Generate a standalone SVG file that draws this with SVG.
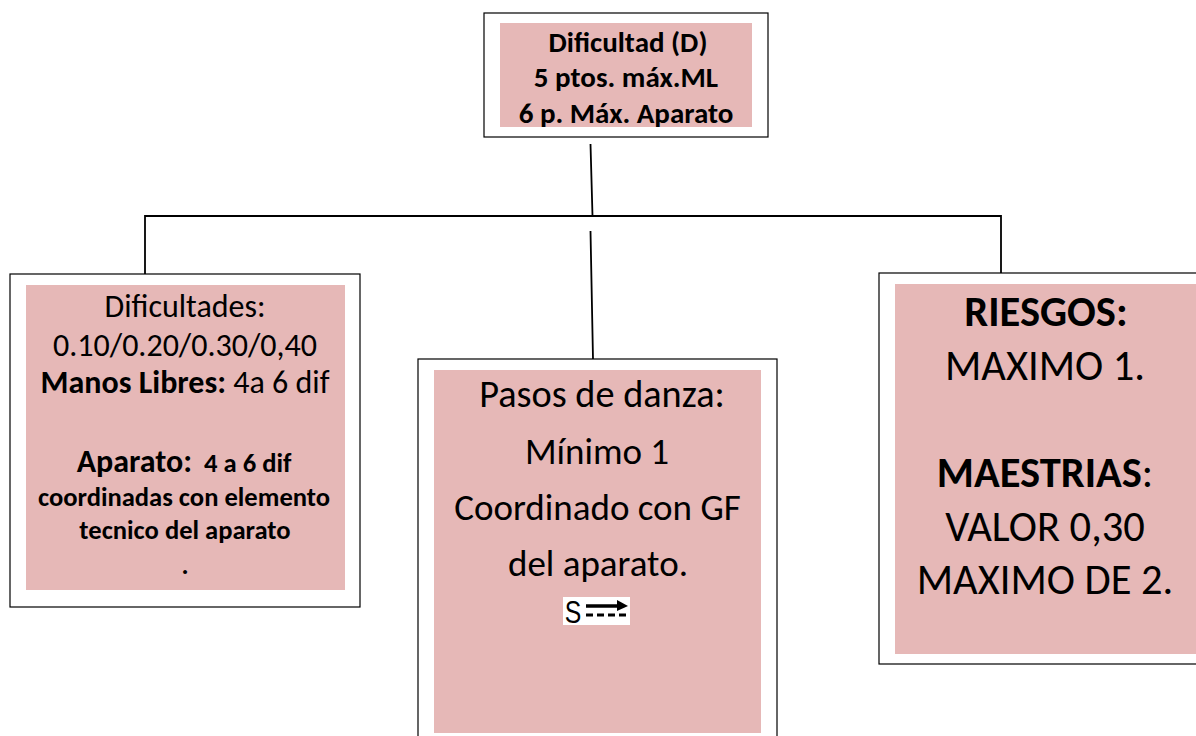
<svg xmlns="http://www.w3.org/2000/svg" width="1196" height="736" viewBox="0 0 1196 736">
<style>
.box{fill:#fff;stroke:#000;stroke-width:1.2}
.in{fill:#e6b8b7}
text{font-family:Carlito,Lato,"Liberation Sans",sans-serif;fill:#000;text-anchor:middle}
.b{font-weight:700}
.c{fill:none;stroke:#000;stroke-width:1.8}
.s{font-family:"Liberation Sans",sans-serif}
</style>
<rect width="1196" height="736" fill="#fff"/>
<g id="connectors">
<path class="c" d="M590.500 144L592.500 216M145 274V216H1001V274M590.500 231L593 359"/>
</g>
<g id="top">
<rect class="box" x="484" y="13" width="284" height="124"/>
<rect class="in" x="500" y="23" width="252" height="104"/>
<g class="b" font-size="29"><text x="628" y="52">Dificultad (D)</text><text x="626" y="87">5 ptos. máx.ML</text><text x="626" y="123">6 p. Máx. Aparato</text></g>
</g>
<g id="left">
<rect class="box" x="10" y="274" width="350" height="333"/>
<rect class="in" x="26" y="285" width="319" height="305"/>
<text x="185" y="317" font-size="32">Dificultades:</text>
<text x="185" y="356" font-size="32">0.10/0.20/0.30/0,40</text>
<text x="185" y="393" font-size="32"><tspan class="b">Manos Libres:</tspan> 4a 6 dif</text>
<text x="184" y="472" font-size="32" class="b" xml:space="preserve">Aparato:<tspan font-size="26.600">  4 a 6 dif</tspan></text>
<text x="184" y="506" font-size="26.600" class="b">coordinadas con elemento</text>
<text x="185" y="539" font-size="26.600" class="b">tecnico del aparato</text>
<text x="185" y="574" font-size="26.600" class="b">.</text>
</g>
<g id="center">
<rect class="box" x="418" y="359" width="359" height="390"/>
<rect class="in" x="434" y="370" width="327" height="363"/>
<g font-size="37"><text x="602" y="407" font-size="38.300">Pasos de danza:</text><text x="597" y="464">Mínimo 1</text><text x="597.500" y="520">Coordinado con GF</text><text x="598" y="576">del aparato.</text></g>
<rect x="563" y="597" width="67" height="28" fill="#fff"/>
<text class="s" transform="translate(573 623) scale(.8 1)" font-size="31">S</text>
<path d="M586 606H620" stroke="#000" stroke-width="3.500" fill="none"/>
<path d="M617 600L628 606L617 611Z"/>
<path d="M586 615H628" stroke="#000" stroke-width="3" stroke-dasharray="7 4" fill="none"/>
</g>
<g id="right">
<rect class="box" x="879" y="273" width="330" height="391"/>
<rect class="in" x="895" y="284" width="301" height="370"/>
<g font-size="42.500"><text x="1046" y="326" class="b">RIESGOS:</text><text x="1045" y="380">MAXIMO 1.</text><text x="1045" y="487"><tspan class="b">MAESTRIAS</tspan>:</text><text x="1045" y="541">VALOR 0,30</text><text x="1045" y="594">MAXIMO DE 2.</text></g>
</g>
</svg>
